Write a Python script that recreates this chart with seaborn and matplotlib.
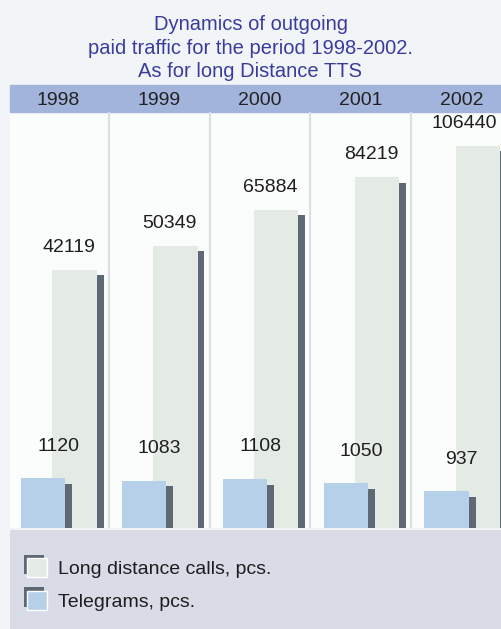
import numpy as np
import matplotlib
matplotlib.use('Agg')
import matplotlib.pyplot as plt
import matplotlib.patheffects as pe
from matplotlib.patches import Rectangle, Patch
from matplotlib.ticker import NullLocator
import seaborn as sns

years = ['1998', '1999', '2000', '2001', '2002']
long_distance_calls = [42119, 50349, 65884, 84219, 106440]
telegrams = [1120, 1083, 1108, 1050, 937]
series_labels = ['Long distance calls, pcs.', 'Telegrams, pcs.']
title = ('Dynamics of outgoing\n'
         'paid traffic for the period 1998-2002.\n'
         'As for long Distance TTS')

ld_color = '#e3ebe4'
tg_color = '#b6d0ea'
shadow_color = '#5e6975'
title_color = '#3a3c9c'
band_color = '#a2b4db'
text_color = '#1e1e1e'

sns.set_theme(style='white')
plt.rcParams['font.family'] = ['Liberation Sans', 'DejaVu Sans']

W, H = 501, 629
fig = plt.figure(figsize=(W / 100, H / 100), dpi=100)
fig.patch.set_facecolor('#f2f5f8')

# main axes: baseline at y=528px, top under the year band at y=112px
ax = fig.add_axes([10 / W, 101 / H, 491 / W, 416 / H])
ax.set_facecolor('#fbfcfc')
ax.set_axisbelow(False)
ax2 = ax.twinx()
ax2.patch.set_visible(False)

pos = np.arange(len(years))

# long distance calls, log axis so they fit next to the telegrams
sns.barplot(x=pos + 0.16, y=long_distance_calls, native_scale=True,
            width=0.44, color=ld_color, saturation=1, linewidth=0,
            errorbar=None, ax=ax)
ax.set_yscale('log', nonpositive='clip')
ax.set_ylim(6100, 137000)

# telegrams on their own linear axis, drawn in front
sns.barplot(x=pos - 0.15, y=telegrams, native_scale=True,
            width=0.44, color=tg_color, saturation=1, linewidth=0,
            errorbar=None, ax=ax2)
ax2.set_ylim(433, 6171)

shadow = [pe.SimplePatchShadow(offset=(5, -4), shadow_rgbFace=shadow_color,
                               alpha=1), pe.Normal()]
for p in ax.patches + ax2.patches:
    p.set_path_effects(shadow)

# value labels
ld_lbls = ax.bar_label(ax.containers[0], padding=10, fontsize=14,
                       color=text_color)
tg_lbls = ax2.bar_label(ax2.containers[0], padding=17, fontsize=14,
                        color=text_color)
for t in tg_lbls:
    t.xyann = (11, t.xyann[1])
for t in ld_lbls:
    t.xyann = (-4, t.xyann[1])

for x in pos[:-1] + 0.5:
    ax.axvline(x, color='#dcdfe2', lw=1.5, zorder=0.5)

ax.set_xlim(-0.48, 4.39)
ax.set_xticks(pos, labels=years)
ax.xaxis.set_minor_locator(NullLocator())
ax.yaxis.set_minor_locator(NullLocator())
ax.tick_params(axis='x', which='both', bottom=False, labelbottom=False,
               top=False, labeltop=True, length=0, pad=2, labelsize=14,
               labelcolor='#222222')
ax.tick_params(axis='y', which='both', left=False, labelleft=False,
               right=False, labelright=False)
ax2.tick_params(axis='y', which='both', left=False, right=False,
                labelleft=False, labelright=False)
ax2.xaxis.set_visible(False)
ax.set_xlabel('')
ax.set_ylabel('')
ax2.set_ylabel('')
for a in (ax, ax2):
    for s in a.spines.values():
        s.set_visible(False)

# year band above the plot (under the tick labels)
ax.add_patch(Rectangle((0, 1), 1, 27 / 416, transform=ax.transAxes,
                       color=band_color, clip_on=False, zorder=0.3))

fig.text(0.5, 1 - 48 / H, title, ha='center', va='center', fontsize=14.5,
         color=title_color, linespacing=1.3)

# legend box at the bottom
fig.patches.append(Rectangle((10 / W, 0), 1, 99 / H, transform=fig.transFigure,
                             facecolor='#d9dbe7', edgecolor='none'))
swatch_fx = [pe.SimplePatchShadow(offset=(-2.5, 2.5), shadow_rgbFace=shadow_color,
                                  alpha=1), pe.Normal()]
handles = [Patch(facecolor=ld_color, label=series_labels[0], path_effects=swatch_fx),
           Patch(facecolor=tg_color, label=series_labels[1], path_effects=swatch_fx)]
fig.legend(handles=handles, loc='upper left', bbox_to_anchor=(27 / W, 1 - 558 / H),
           frameon=False, fontsize=14, handlelength=1.05, handleheight=1.15,
           handletextpad=0.55, labelspacing=0.65, borderpad=0, borderaxespad=0,
           labelcolor=text_color)

# keep value labels inside the picture
fig.canvas.draw()
for t in list(ld_lbls) + list(tg_lbls):
    bb = t.get_window_extent()
    over = bb.x1 - (W - 4)
    if over > 0:
        t.xyann = (t.xyann[0] - over * 72 / 100, t.xyann[1])

fig.savefig('out.png', dpi=100, facecolor=fig.get_facecolor())
